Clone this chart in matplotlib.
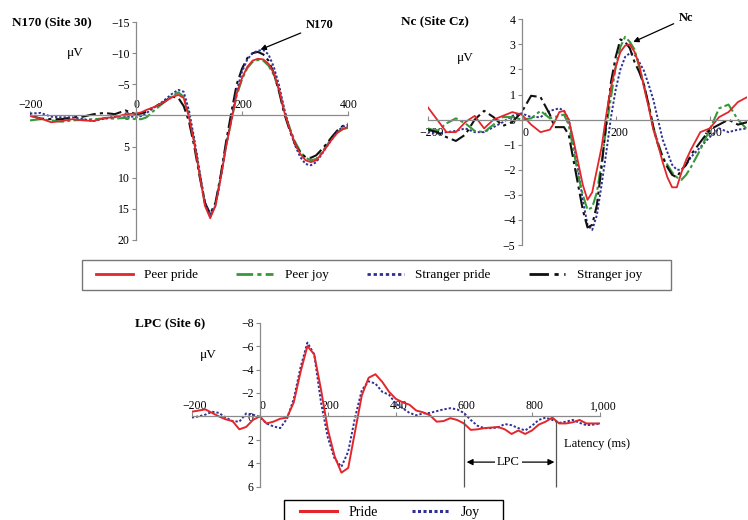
import matplotlib
matplotlib.use('Agg')
import matplotlib.pyplot as plt
from matplotlib.lines import Line2D
from matplotlib.patches import Rectangle
from matplotlib.transforms import ScaledTranslation

plt.rcParams['font.family'] = ['Liberation Serif', 'DejaVu Serif']

# N170 (site 30), microvolts, negative up
t_n170 = list(range(-200, 0, 20)) + list(range(0, 401, 10))
n170_peer_pride = [0.1, 0.5, 1.1, 0.9, 0.6, 0.8, 0.9, 0.4, 0.3, -0.2,
                   -0.3, -0.5, -0.9, -1.2, -1.6, -2.0, -2.5, -3.0, -3.3, -2.8,
                   0.3, 4.5, 9.5, 14.5, 16.5, 14.5, 10.0, 5.0, 0.8, -3.5,
                   -6.0, -7.8, -8.8, -9.1, -9.0, -8.3, -6.8, -4.2, -0.5, 2.2,
                   4.5, 6.2, 7.2, 7.5, 7.2, 6.2, 5.0, 3.8, 2.8, 2.2, 1.8]
n170_peer_joy = [0.8, 0.6, 0.8, 1.0, 0.8, 0.7, 0.6, 0.5, 0.5, 0.4,
                 0.6, 0.6, 0.3, -0.5, -1.2, -1.9, -2.6, -3.2, -3.7, -3.0,
                 0.0, 4.2, 9.2, 14.0, 16.2, 14.3, 9.8, 4.8, 0.8, -3.2,
                 -5.8, -7.6, -8.6, -8.9, -8.8, -8.0, -6.5, -4.0, -0.5, 2.0,
                 4.2, 5.8, 6.8, 7.2, 7.0, 6.0, 4.8, 3.6, 2.7, 2.2, 2.0]
n170_stranger_pride = [-0.3, -0.4, 0.2, 0.3, 0.3, 0.6, 0.9, 0.5, 0.2, 0.0,
                       0.3, 0.1, -0.4, -1.0, -1.6, -2.2, -2.9, -3.6, -4.1, -3.8,
                       -0.8, 3.8, 9.0, 14.0, 16.0, 14.5, 10.0, 4.8, 0.5, -4.0,
                       -7.0, -9.0, -10.0, -10.4, -10.5, -9.8, -7.8, -4.8, -1.0, 2.2,
                       4.8, 6.7, 7.8, 8.0, 7.5, 6.3, 5.0, 3.8, 2.6, 1.8, 1.5]
n170_stranger_joy = [0.0, 0.5, 0.6, 0.6, 0.3, 0.2, -0.2, -0.4, -0.2, -0.8,
                     -0.2, -0.3, -0.6, -1.2, -1.6, -2.0, -2.6, -3.0, -2.8, -1.5,
                     1.0, 5.0, 9.8, 14.0, 15.8, 14.0, 9.5, 4.2, -0.5, -5.0,
                     -7.5, -9.2, -10.0, -10.2, -9.8, -8.8, -6.8, -3.8, -0.2, 2.4,
                     4.6, 6.0, 6.7, 6.8, 6.4, 5.5, 4.5, 3.4, 2.4, 1.7, 1.3]

# Nc (site Cz), positive up
t_nc = list(range(-200, 61, 20)) + list(range(70, 361, 10)) + list(range(380, 481, 20))
nc_peer_pride = [0.5, 0.0, -0.5, -0.5, -0.1, 0.15, -0.35, 0.0, 0.15, 0.3, 0.2, -0.2, -0.5, -0.4,
                 -0.1, 0.3, 0.35, 0.0, -0.8, -1.7, -2.6, -3.2, -2.9, -2.0, -1.1, 0.2, 1.3, 2.1, 2.7,
                 2.95, 3.0, 2.7, 2.2, 1.3, 0.5, -0.4, -1.0, -1.7, -2.3, -2.7, -2.7, -2.1, -1.6, -1.2,
                 -0.5, -0.35, 0.1, 0.3, 0.7, 0.9]
nc_peer_joy = [-0.35, -0.45, -0.15, 0.05, -0.15, -0.45, -0.5, -0.2, 0.1, 0.1, 0.0, 0.05, 0.35, 0.05,
               0.1, 0.15, 0.2, -0.2, -1.2, -2.2, -3.0, -3.6, -3.5, -2.9, -1.7, -0.3, 0.9, 2.1, 2.9,
               3.3, 3.1, 2.8, 2.1, 1.4, 0.6, -0.3, -0.9, -1.5, -1.8, -2.1, -2.3, -2.4, -2.2, -1.9,
               -1.2, -0.4, 0.45, 0.6, 0.0, -0.4]
nc_stranger_pride = [-0.5, -0.55, -0.5, -0.45, -0.35, -0.5, -0.5, -0.3, -0.1, 0.15, 0.25, 0.1, 0.1, 0.35,
                     0.4, 0.45, 0.35, 0.0, -0.9, -2.0, -3.2, -4.2, -4.4, -3.8, -2.6, -1.3, 0.1, 1.2, 2.0,
                     2.5, 2.65, 2.6, 2.3, 1.95, 1.4, 0.8, 0.0, -0.8, -1.3, -1.8, -2.0, -2.0, -1.8, -1.5,
                     -1.1, -0.7, -0.35, -0.5, -0.4, -0.35]
nc_stranger_joy = [-0.4, -0.5, -0.7, -0.85, -0.6, 0.0, 0.35, 0.1, -0.25, -0.1, 0.3, 0.95, 0.9, 0.2,
                   -0.3, -0.3, -0.3, -0.6, -1.6, -2.6, -3.6, -4.3, -4.2, -3.4, -1.9, -0.1, 1.5, 2.5, 3.2,
                   3.1, 2.85, 2.3, 1.9, 1.4, 0.6, -0.3, -1.0, -1.5, -1.9, -2.2, -2.3, -2.0, -1.8, -1.4,
                   -0.9, -0.4, -0.2, 0.0, -0.2, -0.1]

# LPC (site 6), negative up
t_lpc = list(range(-200, 1001, 20))
lpc_pride = [-0.4, -0.5, -0.6, -0.3, 0.0, 0.25, 0.4, 1.1, 0.9, 0.3,
             0.0, 0.6, 0.45, 0.2, 0.1, -1.2, -3.8, -6.0, -5.3, -2.3,
             1.1, 3.4, 4.8, 4.4, 1.3, -1.8, -3.3, -3.6, -2.95, -2.1,
             -1.5, -1.2, -1.0, -0.5, -0.35, -0.1, 0.45, 0.4, 0.15, 0.3,
             0.6, 1.15, 1.1, 1.0, 0.95, 0.9, 1.1, 1.5, 1.2, 1.5,
             1.2, 0.7, 0.45, 0.1, 0.6, 0.6, 0.5, 0.3, 0.6, 0.6, 0.6]
lpc_joy = [0.1, 0.0, -0.15, -0.4, -0.3, 0.1, 0.4, 0.45, -0.25, -0.15,
           0.05, 0.6, 0.85, 1.0, 0.2, -1.5, -4.2, -6.3, -5.3, -1.2,
           1.8, 3.6, 4.3, 3.0, 0.1, -2.25, -3.0, -2.8, -2.1, -1.85,
           -1.1, -0.7, -0.3, -0.1, -0.25, -0.3, -0.45, -0.6, -0.7, -0.6,
           -0.3, 0.3, 0.8, 1.0, 1.0, 0.95, 0.65, 0.75, 1.0, 1.2,
           0.8, 0.3, 0.1, 0.3, 0.55, 0.45, 0.3, 0.55, 0.75, 0.7, 0.6]
lpc_window = [600, 870]

RED = '#e3262b'
GREEN = '#35993a'
BLUE = '#2e3192'
BLACK = '#111111'
AXIS = '#8a8a8a'
STYLES = {
    'Peer pride': dict(color=RED, ls='-', lw=1.3),
    'Peer joy': dict(color=GREEN, ls=(0, (6, 1.5, 1.5, 1.5)), lw=1.5),
    'Stranger pride': dict(color=BLUE, ls=(0, (1.2, 1.0)), lw=1.4),
    'Stranger joy': dict(color=BLACK, ls=(0, (7, 2, 1.5, 2)), lw=1.5),
}

W, H = 748, 520
fig = plt.figure(figsize=(W / 100, H / 100), dpi=100)


def add_panel(box, xlim, ylim, xticks, xlabels, yticks, above, dx):
    x0, y0, x1, y1 = box
    ax = fig.add_axes([x0 / W, 1 - y1 / H, (x1 - x0) / W, (y1 - y0) / H])
    ax.set_xlim(*xlim)
    ax.set_ylim(*ylim)
    ax.patch.set_visible(False)
    for side in ('top', 'right'):
        ax.spines[side].set_visible(False)
    for side in ('left', 'bottom'):
        ax.spines[side].set_position(('data', 0))
        ax.spines[side].set_color(AXIS)
        ax.spines[side].set_linewidth(0.9)
    ax.set_xticks(xticks, xlabels)
    ax.set_yticks(yticks)
    ax.tick_params(axis='both', color=AXIS, width=0.8, labelsize=8.5)
    ax.tick_params(axis='y', direction='out', length=3, pad=1.5)
    ax.tick_params(axis='x', direction='in', length=3, pad=-11.5 if above else 5)
    offset = ScaledTranslation(dx / 100, 0, fig.dpi_scale_trans)
    for lab in ax.get_xticklabels():
        lab.set_transform(lab.get_transform() + offset)
    return ax


def frame(x0, y0, x1, y1, color):
    fig.add_artist(Rectangle((x0 / W, 1 - y1 / H), (x1 - x0) / W, (y1 - y0) / H,
                             transform=fig.transFigure, fill=False, edgecolor=color, lw=1.0))


# N170 panel
ax1 = add_panel((30, 22, 348, 240), (-200, 400), (20, -15),
                [-200, 0, 200, 400], ['\u2212200', '0', '200', '400'],
                [-15, -10, -5, 0, 5, 10, 15, 20], True, 1)
for name, vals in [('Peer joy', n170_peer_joy), ('Stranger joy', n170_stranger_joy),
                   ('Stranger pride', n170_stranger_pride), ('Peer pride', n170_peer_pride)]:
    ax1.plot(t_n170, vals, **STYLES[name])
ax1.annotate('N170', xy=(230, -10.4), xytext=(347, -14.5), ha='center', va='center',
             fontsize=9, fontweight='bold', annotation_clip=False,
             arrowprops=dict(arrowstyle='-|>', color='black', lw=0.9, mutation_scale=8))

# Nc panel
ax2 = add_panel((427.7, 19.3, 747.3, 245), (-200, 480), (-5, 4),
                [-200, 0, 200, 400], ['\u2212200', '0', '200', '400'],
                [-5, -4, -3, -2, -1, 0, 1, 2, 3, 4], False, 4)
for name, vals in [('Stranger pride', nc_stranger_pride), ('Peer joy', nc_peer_joy),
                   ('Stranger joy', nc_stranger_joy), ('Peer pride', nc_peer_pride)]:
    ax2.plot(t_nc, vals, **STYLES[name])
ax2.annotate('Nc', xy=(232, 3.05), xytext=(350, 4.05), ha='center', va='center',
             fontsize=9, fontweight='bold', annotation_clip=False,
             arrowprops=dict(arrowstyle='-|>', color='black', lw=0.9, mutation_scale=8))

# LPC panel
ax3 = add_panel((191.7, 322.7, 600, 486.7), (-200, 1000), (6, -8),
                [-200, 0, 200, 400, 600, 800, 1000],
                ['\u2212200', '0', '200', '400', '600', '800', '1,000'],
                [-8, -6, -4, -2, 0, 2, 4, 6], True, 3)
ax3.plot(t_lpc, lpc_joy, color=BLUE, ls=(0, (1.2, 1.0)), lw=1.4)
ax3.plot(t_lpc, lpc_pride, color=RED, ls='-', lw=1.4)
ax3.vlines(lpc_window, [0.2, 0.3], 6, color='#555555', lw=0.9, clip_on=False)
ax3.annotate('', xy=(lpc_window[0] + 8, 3.9), xytext=(lpc_window[1] - 4, 3.9),
             arrowprops=dict(arrowstyle='<|-|>', color='black', lw=0.9, mutation_scale=9,
                             shrinkA=0, shrinkB=0))
ax3.text(sum(lpc_window) / 2 - 5, 3.9, 'LPC', ha='center', va='center', fontsize=9,
         bbox=dict(facecolor='white', edgecolor='none', pad=1.5))
ax3.text(992, 2.36, 'Latency (ms)', ha='center', va='center', fontsize=9, clip_on=False)

# panel titles and units
fig.text(12 / W, 1 - 22 / H, 'N170 (Site 30)', fontsize=9.5, fontweight='bold', va='center')
fig.text(67 / W, 1 - 53 / H, '\u03bcV', fontsize=9.5, va='center')
fig.text(401 / W, 1 - 21 / H, 'Nc (Site Cz)', fontsize=9.5, fontweight='bold', va='center')
fig.text(457 / W, 1 - 58 / H, '\u03bcV', fontsize=9.5, va='center')
fig.text(205 / W, 1 - 323 / H, 'LPC (Site 6)', fontsize=9.5, fontweight='bold', va='center', ha='right')
fig.text(200 / W, 1 - 355 / H, '\u03bcV', fontsize=9.5, va='center')

# legends, boxes drawn separately to match the original spacing
names = ['Peer pride', 'Peer joy', 'Stranger pride', 'Stranger joy']
handles = [Line2D([0, 1], [0, 0], **dict(STYLES[n], lw=2.0)) for n in names]
fig.legend(handles, names, loc='center left', ncol=4, frameon=False,
           bbox_to_anchor=(96 / W, 1 - 275 / H), fontsize=9.5,
           handlelength=2.8, handletextpad=0.85, columnspacing=2.9,
           borderpad=0, borderaxespad=0)
frame(82, 260, 671, 290, '#777777')

handles2 = [Line2D([0, 1], [0, 0], color=RED, lw=2.2),
            Line2D([0, 1], [0, 0], color=BLUE, ls=(0, (1.0, 0.8)), lw=2.2)]
fig.legend(handles2, ['Pride', 'Joy'], loc='center left', ncol=2, frameon=False,
           bbox_to_anchor=(300 / W, 1 - 512.5 / H), fontsize=10,
           handlelength=2.66, handletextpad=0.86, columnspacing=2.45,
           borderpad=0, borderaxespad=0)
frame(284, 500, 503, 530, 'black')

fig.savefig('out.png', dpi=100)
